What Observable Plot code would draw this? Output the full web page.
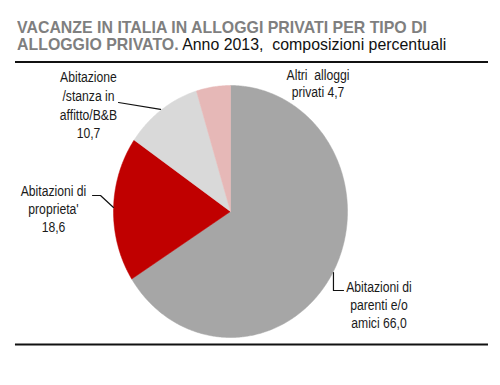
<!DOCTYPE html>
<html>
<head>
<meta charset="utf-8">
<script src="https://cdn.jsdelivr.net/npm/d3@7"></script>
<script src="https://cdn.jsdelivr.net/npm/@observablehq/plot@0.6"></script>
<style>
  html, body { margin: 0; padding: 0; background: #fff; }
  body { width: 500px; height: 385px; overflow: hidden; font-family: "Liberation Sans", Arial, sans-serif; }
  #title { box-sizing: border-box; height: 63px; margin: 0 12px 0 15px; padding: 20px 0 0 2px; border-bottom: 2px solid #111; font-size: 17px; line-height: 16.5px; color: #111; white-space: nowrap; }
  #title span { display: inline-block; transform: scaleX(0.935); transform-origin: 0 0; }
  #title b { color: #7f7f7f; }
  #chart svg { display: block; }
</style>
</head>
<body>
<div id="title"><span><b>VACANZE IN ITALIA IN ALLOGGI PRIVATI PER TIPO DI<br>ALLOGGIO PRIVATO.</b> Anno 2013,&nbsp; composizioni percentuali</span></div>
<div id="chart"></div>
<script>
// Data
const categories = ["Abitazioni di parenti e/o amici", "Abitazioni di proprieta'", "Abitazione /stanza in affitto/B&B", "Altri alloggi privati"];
const values = [66.0, 18.6, 10.7, 4.7];
const valueLabels = ["66,0", "18,6", "10,7", "4,7"];
const labelTexts = [
  "Abitazioni di\nparenti e/o\namici 66,0",
  "Abitazioni di\nproprieta'\n18,6",
  "Abitazione\n/stanza in\naffitto/B&B\n10,7",
  "Altri  alloggi\nprivati 4,7"
];
const colors = ["#A6A6A6", "#C00000", "#D9D9D9", "#E6B8B7"];

// Layout (pie unit coordinates)
const labelPos = [[1.269, -0.734], [-1.513, 0.024], [-1.214, 0.852], [0.748, 1.016]];
const labelLineHeight = [1.3, 1.3, 1.34, 1.2];
const leaders = [
  [[0.880, -0.484], [0.880, -0.627], [0.966, -0.627]],
  [[-1.179, 0.127], [-1.111, 0.127], [-1.0, 0.032]],
  [[-0.957, 0.865], [-0.598, 0.810]],
  []
];

// Build slice polygons from values
const total = d3.sum(values);
const slices = [];
let acc = 0;
values.forEach((v, i) => {
  const a0 = acc / total * 2 * Math.PI;
  acc += v;
  const a1 = acc / total * 2 * Math.PI;
  const n = Math.max(2, Math.ceil((a1 - a0) / 0.01));
  slices.push({k: i, x: 0, y: 0, c: colors[i]});
  for (let j = 0; j <= n; j++) {
    const a = a0 + (a1 - a0) * j / n;
    slices.push({k: i, x: Math.sin(a), y: Math.cos(a), c: colors[i]});
  }
  slices.push({k: i, x: 0, y: 0, c: colors[i]});
});

const leaderData = leaders.flatMap((pts, i) => pts.map(([x, y]) => ({k: i, x, y})));

const marks = [
  Plot.line(slices, {x: "x", y: "y", z: "k", fill: "c", stroke: "c", strokeWidth: 0.5, curve: "linear"}),
  Plot.line(leaderData, {x: "x", y: "y", z: "k", stroke: "#111", strokeWidth: 1.2}),
  Plot.ruleY([-1.056], {x1: -1.838, x2: 2.205, stroke: "#111", strokeWidth: 2})
];
labelTexts.forEach((t, i) => {
  marks.push(Plot.text([t], {
    x: () => labelPos[i][0], y: () => labelPos[i][1], text: d => d,
    fontSize: 14, lineHeight: labelLineHeight[i], textAnchor: "middle", lineAnchor: "middle", fill: "#1a1a1a"
  }));
});

const chart = Plot.plot({
  width: 500,
  height: 322,
  margin: 0,
  style: {fontFamily: '"Liberation Sans", Arial, sans-serif', background: "#fff"},
  x: {domain: [-1, 1], range: [113, 347], axis: null},
  y: {domain: [-1, 1], range: [274, 22], axis: null},
  color: {type: "identity"},
  marks
});
// Condense label text horizontally (narrow typeface look), about each label's own anchor
chart.querySelectorAll("text").forEach(el => {
  const t = el.getAttribute("transform") || "";
  el.setAttribute("transform", (t + " scale(0.87,1)").trim());
});
document.getElementById("chart").appendChild(chart);
</script>
</body>
</html>
